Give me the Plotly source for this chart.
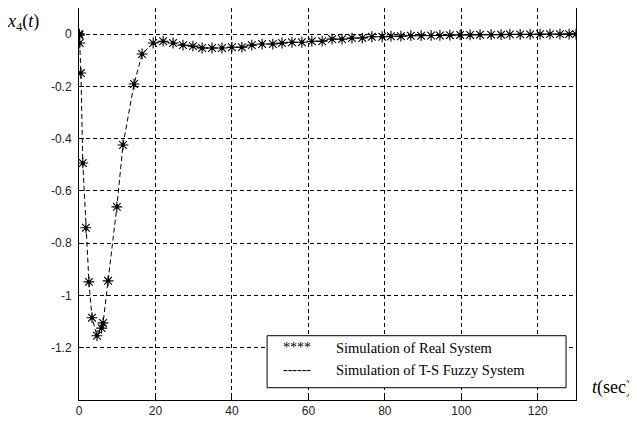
import plotly.graph_objects as go

# ---- data ----
t_real = [0, 0.05, 0.1, 0.2, 0.5, 1.0, 1.8, 2.6, 3.4, 4.7, 5.9, 6.3, 7.6, 9.9, 11.5,
          14.4, 16.5, 19.4, 22.0, 24.6, 27.2, 29.8, 32.2, 34.8, 37.4, 40.0, 42.6,
          45.2, 47.9, 50.7, 53.1, 55.7, 58.3, 60.9, 63.6, 66.2, 68.8, 71.4, 74.1,
          76.6, 79.3, 81.6, 84.2, 86.8, 89.5, 92.1, 94.4, 97.0, 99.7, 102.3, 104.9,
          107.8, 110.4, 112.7, 115.4, 118.0, 120.6, 123.2, 125.8, 128.2, 130.0]
x4_real = [0, 0.0, -0.004, -0.034, -0.149, -0.493, -0.741, -0.948, -1.085, -1.154,
           -1.125, -1.105, -0.944, -0.661, -0.424, -0.191, -0.076, -0.034, -0.027,
           -0.034, -0.042, -0.046, -0.053, -0.053, -0.053, -0.050, -0.050, -0.042,
           -0.038, -0.038, -0.034, -0.031, -0.031, -0.027, -0.027, -0.019, -0.019,
           -0.015, -0.015, -0.010, -0.010, -0.008, -0.008, -0.006, -0.006, -0.005,
           -0.005, -0.004, -0.003, -0.003, -0.002, -0.002, -0.002, -0.001, -0.001,
           -0.001, 0, 0, 0, 0, 0]
t_fuzzy = list(t_real)
x4_fuzzy = list(x4_real)

x_ticks = [0, 20, 40, 60, 80, 100, 120]
y_ticks = [0, -0.2, -0.4, -0.6, -0.8, -1.0, -1.2]
y_tick_text = ["0", "-0.2", "-0.4", "-0.6", "-0.8", "-1", "-1.2"]
legend_labels = ["Simulation of Real System", "Simulation of T-S Fuzzy System"]
legend_keys = ["****", "------"]

fig = go.Figure()
fig.add_trace(go.Scatter(x=t_fuzzy, y=x4_fuzzy, mode="lines",
                         line=dict(color="black", width=1, dash="5px,3px"),
                         showlegend=False))
fig.add_trace(go.Scatter(x=t_real, y=x4_real, mode="markers",
                         marker=dict(symbol="asterisk-open", size=9, color="black",
                                     line=dict(color="black", width=1.1)),
                         showlegend=False))
fig.add_trace(go.Scatter(x=t_real, y=x4_real, mode="markers",
                         marker=dict(symbol="circle", size=3.5, color="black"),
                         showlegend=False))

tickfont = dict(family="Liberation Sans, Arial, sans-serif", size=12, color="#222")
fig.update_xaxes(range=[0, 130], tickvals=x_ticks, showgrid=True,
                 gridcolor="black", griddash="4px,3px", gridwidth=1,
                 showline=True, linecolor="black", linewidth=1, mirror=True,
                 ticks="inside", ticklen=5, tickcolor="black",
                 tickfont=tickfont, zeroline=False)
fig.update_yaxes(range=[-1.4, 0.1], tickvals=y_ticks, ticktext=y_tick_text,
                 showgrid=True, gridcolor="black", griddash="4px,3px", gridwidth=1,
                 showline=True, linecolor="black", linewidth=1, mirror=True,
                 ticks="inside", ticklen=5, tickcolor="black",
                 tickfont=tickfont, zeroline=False, ticklabelstandoff=4)

serif = "Liberation Serif, Times New Roman, serif"
# legend box
fig.add_shape(type="rect", xref="x", yref="y", x0=49.2, x1=127.4, y0=-1.353, y1=-1.154,
              fillcolor="white", line=dict(color="black", width=1), layer="above")
leg_y = [-1.2, -1.284]
for key, lab, yy in zip(legend_keys, legend_labels, leg_y):
    fig.add_annotation(x=57.0, y=yy, xref="x", yref="y", text=key, showarrow=False,
                       xanchor="center", yanchor="middle",
                       font=dict(family=serif, size=14, color="black"))
    fig.add_annotation(x=66.8, y=yy, xref="x", yref="y", text=lab, showarrow=False,
                       xanchor="left", yanchor="middle",
                       font=dict(family=serif, size=14.5, color="black"))

fig.add_annotation(x=-0.113, y=0.962, xref="paper", yref="paper",
                   text="<i>x</i><sub>4</sub>(<i>t</i>)", showarrow=False,
                   xanchor="center", yanchor="middle",
                   font=dict(family=serif, size=18, color="black"))
fig.add_annotation(x=1.072, y=0.031, xref="paper", yref="paper",
                   text="<i>t</i>(sec)", showarrow=False,
                   xanchor="center", yanchor="middle",
                   font=dict(family=serif, size=18, color="black"))

# page body adds an 8px offset, so the figure is sized to fit the 637x422 window
fig.update_layout(width=629, height=414, margin=dict(l=71, r=61, t=0, b=22),
                  plot_bgcolor="white", paper_bgcolor="white")
fig.write_html("out.html")
